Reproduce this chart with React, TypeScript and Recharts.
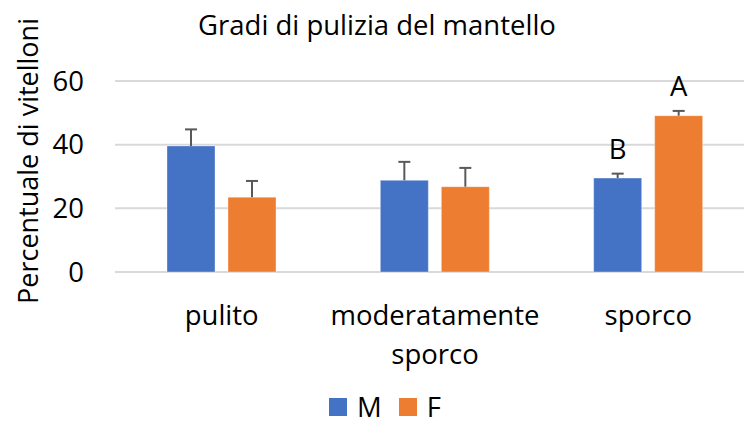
import React from "react";
import { Bar, BarChart, CartesianGrid, LabelList, Rectangle, XAxis, YAxis } from "recharts";

const categories = ["pulito", "moderatamente sporco", "sporco"];
const maleValues = [39.6, 28.8, 29.5];
const maleErrors = [5.2, 5.8, 1.4];
const femaleValues = [23.5, 26.8, 49.1];
const femaleErrors = [5.1, 5.9, 1.5];
const maleLetters = ["", "", "B"];
const femaleLetters = ["", "", "A"];
const yTicks = [0, 20, 40, 60];

const BLUE = "#4472C4";
const ORANGE = "#ED7D31";
const FONT = "'Open Sans', Lato, sans-serif";
const FS = 27.5;

const data = categories.map((name, i) => ({
  name,
  M: maleValues[i],
  F: femaleValues[i],
  mErr: maleErrors[i],
  fErr: femaleErrors[i],
  mLetter: maleLetters[i],
  fLetter: femaleLetters[i],
}));

// bar + upper-only whisker, whisker length scaled from the bar's own px/unit
function barWithError(errKey: "mErr" | "fErr") {
  return (props: any) => {
    const { x, y, width, height, fill, payload, value } = props;
    const v = Array.isArray(value) ? value[1] - value[0] : value;
    const pxPerUnit = v ? height / v : 0;
    const errPx = payload[errKey] * pxPerUnit;
    const cx = x + width / 2;
    return (
      <g>
        <Rectangle x={x} y={y} width={width} height={height} fill={fill} stroke="rgba(255,255,255,0.35)" strokeWidth={1} />
        <line x1={cx} x2={cx} y1={y} y2={y - errPx} stroke="#595959" strokeWidth={2} />
        <line x1={cx - 6} x2={cx + 6} y1={y - errPx} y2={y - errPx} stroke="#595959" strokeWidth={2} />
      </g>
    );
  };
}

function CategoryTick(props: any) {
  const { x, y, payload } = props;
  const words: string[] = payload.value.length > 10 ? payload.value.split(" ") : [payload.value];
  return (
    <text x={x} y={y} textAnchor="middle" fill="#000" fontSize={FS} fontFamily={FONT}>
      {words.map((w, i) => (
        <tspan key={i} x={x} dy={i === 0 ? 51 : 39}>
          {w}
        </tspan>
      ))}
    </text>
  );
}

function LetterLabel(props: any) {
  const { x, y, width, value } = props;
  if (!value) return null;
  return (
    <text x={x + width / 2} y={y - 30} textAnchor="middle" dominantBaseline="central" fontSize={FS} fontFamily={FONT} fill="#000">
      {value}
    </text>
  );
}

const series = [
  { key: "M", color: BLUE },
  { key: "F", color: ORANGE },
];

export default function App() {
  return (
    <div style={{ position: "fixed", left: 0, top: 0, width: 744, height: 425, overflow: "hidden", background: "#fff", fontFamily: FONT }}>
      <div style={{ position: "absolute", left: 0, width: 754, top: 7, textAlign: "center", fontSize: FS, lineHeight: "36px", color: "#000" }}>
        Gradi di pulizia del mantello
      </div>
      <div
        style={{
          position: "absolute",
          left: 27,
          top: 161,
          transform: "translate(-50%, -50%) rotate(-90deg)",
          whiteSpace: "nowrap",
          fontSize: 27,
          color: "#000",
        }}
      >
        Percentuale di vitelloni
      </div>
      <BarChart
        width={760}
        height={425}
        data={data}
        margin={{ top: 81, right: 5, bottom: 83, left: 25 }}
        barSize={48}
        barGap={13}
      >
        <CartesianGrid vertical={false} stroke="#D9D9D9" strokeWidth={2} />
        <XAxis dataKey="name" height={70} axisLine={false} tickLine={false} tickSize={0} tick={<CategoryTick />} interval={0} />
        <YAxis
          width={90}
          domain={[0, 60]}
          ticks={yTicks}
          axisLine={false}
          tickLine={false}
          tickSize={0}
          tickMargin={31}
          tick={{ fontSize: FS, fill: "#000", fontFamily: FONT }}
        />
        <Bar dataKey="M" fill={BLUE} isAnimationActive={false} shape={barWithError("mErr")}>
          <LabelList dataKey="mLetter" content={<LetterLabel />} />
        </Bar>
        <Bar dataKey="F" fill={ORANGE} isAnimationActive={false} shape={barWithError("fErr")}>
          <LabelList dataKey="fLetter" content={<LetterLabel />} />
        </Bar>
      </BarChart>
      <div style={{ position: "absolute", left: 329, top: 396, height: 22, display: "flex", alignItems: "center", fontSize: FS, lineHeight: "22px", color: "#000" }}>
        {series.map((s) => (
          <div key={s.key} style={{ display: "flex", alignItems: "center", marginRight: 17 }}>
            <span style={{ display: "inline-block", width: 18, height: 18, background: s.color, marginRight: 10 }} />
            {s.key}
          </div>
        ))}
      </div>
    </div>
  );
}
